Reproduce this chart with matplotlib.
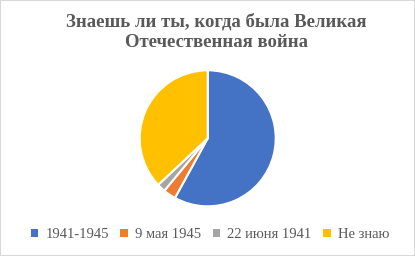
import matplotlib.pyplot as plt
from matplotlib.patches import Rectangle, Patch

labels = ['1941-1945', '9 мая 1945', '22 июня 1941', 'Не знаю']
values = [58, 3, 2, 37]
colors = ['#4472C4', '#ED7D31', '#A5A5A5', '#FFC000']

W, H = 415, 256
fig = plt.figure(figsize=(W / 100, H / 100), dpi=100)
fig.patches.append(Rectangle((0, 0), 1, 1, transform=fig.transFigure,
                             fill=False, edgecolor='#D9D9D9', linewidth=1.5))

cx, cy, r = 207.7, 138.3, 68
ax = fig.add_axes([(cx - r) / W, (H - cy - r) / H, 2 * r / W, 2 * r / H])
ax.pie(values, colors=colors, startangle=90, counterclock=False, radius=1,
       wedgeprops=dict(edgecolor='white', linewidth=1.5))
ax.set_xlim(-1, 1)
ax.set_ylim(-1, 1)
ax.axis('off')

fig.text(216 / W, 1 - 32 / H, 'Знаешь ли ты, когда была Великая\nОтечественная война',
         ha='center', va='center', fontsize=13.5, fontweight='bold',
         family='Liberation Serif', color='#595959', linespacing=1.2)

handles = [Patch(facecolor=c, edgecolor='none') for c in colors]
fig.legend(handles, labels, loc='center', bbox_to_anchor=(210 / W, 1 - 235 / H),
           ncol=4, frameon=False, prop=dict(family='Liberation Serif', size=10.5),
           labelcolor='#595959', handlelength=0.5, handleheight=0.5,
           handletextpad=0.5, columnspacing=0.8)

fig.savefig('out.png', dpi=100)
